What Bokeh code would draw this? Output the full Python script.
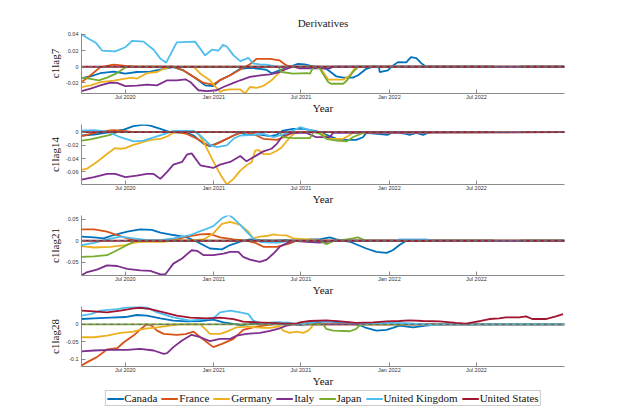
import math
from datetime import datetime
from bokeh.plotting import figure
from bokeh.models import (Range1d, FixedTicker, DatetimeTickFormatter, CustomJSTickFormatter,
                          Legend, LegendItem, Span)
from bokeh.layouts import column
from bokeh.embed import file_html
from bokeh.resources import INLINE

NAN = float("nan")

COUNTRIES = ["Canada", "France", "Germany", "Italy", "Japan", "United Kingdom", "United States"]
COLORS = ["#0072BD", "#D95319", "#EDB120", "#7E2F8E", "#77AC30", "#4DBEEE", "#A2142F"]
PANEL_LABELS = ["c1lag7", "c1lag14", "c1lag21", "c1lag28"]
TITLE = "Derivatives"
X_LABEL = "Year"
X_START, X_END = "2020-04-01", "2022-12-31"
X_TICK_DATES = ["2020-07-01", "2021-01-01", "2021-07-01", "2022-01-01", "2022-07-01"]
Y_RANGES = [(-0.033, 0.041), (-0.079, 0.0116), (-0.0805, 0.0585), (-0.12, 0.0506)]
Y_TICKS = [[-0.02, 0, 0.02, 0.04], [-0.06, -0.04, -0.02, 0], [-0.05, 0, 0.05], [-0.1, -0.05, 0]]

# ---------------- c1lag7 ----------------
C7_CANADA = [("2020-04-01", -0.014), ("2020-04-20", -0.012), ("2020-05-10", -0.008), ("2020-06-07", -0.006),
             ("2020-07-01", -0.0085), ("2020-07-25", -0.0065), ("2020-08-22", -0.006), ("2020-09-19", -0.0025),
             ("2020-10-09", -0.0005), ("2020-10-30", -0.0045), ("2020-11-23", -0.0135), ("2020-12-14", -0.023),
             ("2020-12-31", -0.024), ("2021-01-14", -0.0165), ("2021-02-04", -0.0105), ("2021-02-25", -0.0025),
             ("2021-03-17", -0.0015), ("2021-04-07", -0.0025), ("2021-04-21", -0.004), ("2021-05-01", -0.008),
             ("2021-05-18", -0.0045), ("2021-06-08", 0.0), ("2021-06-25", 0.0035), ("2021-07-09", 0.003),
             ("2021-07-20", 0.0015), ("2021-08-23", -0.0025), ("2021-09-13", -0.012), ("2021-09-27", -0.0135),
             ("2021-10-17", -0.0135), ("2021-10-28", -0.0105), ("2021-11-14", -0.0025), ("2021-11-28", 0.0),
             ("2021-12-10", 0.0), ("2021-12-12", -0.0065), ("2021-12-29", -0.0045), ("2022-01-05", 0.0),
             ("2022-01-19", 0.0057), ("2022-02-05", 0.0053), ("2022-02-15", 0.0118), ("2022-02-26", 0.0106),
             ("2022-03-08", 0.0045), ("2022-03-18", 0.0), ("2022-12-31", 0.0)]
C7_FRANCE = [("2020-04-01", -0.019), ("2020-04-20", -0.0105), ("2020-05-10", -0.0005), ("2020-06-07", 0.0025),
             ("2020-07-01", 0.001), ("2020-07-25", 0.0), ("2020-10-09", 0.0), ("2020-10-30", -0.0045),
             ("2020-11-20", -0.0125), ("2020-12-11", -0.020), ("2020-12-31", -0.022), ("2021-01-14", -0.0165),
             ("2021-02-04", -0.0105), ("2021-02-25", -0.0035), ("2021-03-17", 0.003), ("2021-03-31", 0.0098),
             ("2021-04-28", 0.0098), ("2021-05-18", 0.0078), ("2021-06-01", 0.0016), ("2021-06-12", 0.0),
             ("2022-12-31", 0.0)]
C7_GERMANY = [("2020-04-01", -0.025), ("2020-04-20", -0.023), ("2020-05-10", -0.019), ("2020-06-07", -0.017),
              ("2020-07-01", -0.0147), ("2020-07-15", -0.0135), ("2020-07-25", -0.0147), ("2020-08-15", -0.008),
              ("2020-09-05", -0.0065), ("2020-09-19", -0.0025), ("2020-10-02", -0.0004), ("2020-11-20", 0.0),
              ("2020-12-04", -0.0086), ("2020-12-24", -0.0167), ("2021-01-14", -0.031), ("2021-01-21", -0.029),
              ("2021-02-04", -0.028), ("2021-02-25", -0.028), ("2021-03-07", -0.033), ("2021-03-17", -0.025),
              ("2021-03-31", -0.026), ("2021-04-14", -0.0237), ("2021-05-01", -0.0167), ("2021-05-18", -0.0065),
              ("2021-06-08", 0.0), ("2021-08-09", 0.0), ("2021-08-27", -0.016), ("2021-09-27", -0.016),
              ("2021-10-11", -0.0106), ("2021-10-21", -0.002), ("2021-10-28", 0.0), ("2022-12-31", 0.0)]
C7_ITALY = [("2020-04-01", -0.030), ("2020-04-20", -0.027), ("2020-05-10", -0.023), ("2020-05-31", -0.0196),
            ("2020-06-14", -0.020), ("2020-07-01", -0.024), ("2020-07-25", -0.0233), ("2020-08-15", -0.022),
            ("2020-09-05", -0.023), ("2020-09-26", -0.0167), ("2020-10-16", -0.0167), ("2020-11-03", -0.0155),
            ("2020-11-13", -0.0188), ("2020-11-30", -0.029), ("2020-12-17", -0.030), ("2021-01-07", -0.029),
            ("2021-01-21", -0.025), ("2021-02-11", -0.020), ("2021-02-25", -0.0167), ("2021-03-17", -0.0126),
            ("2021-04-07", -0.0106), ("2021-04-28", -0.0094), ("2021-05-18", -0.0065), ("2021-06-01", -0.0025),
            ("2021-06-15", 0.0), ("2021-06-29", -0.002), ("2021-08-30", -0.002), ("2021-09-06", 0.0),
            ("2022-12-31", 0.0)]
C7_JAPAN = [("2020-04-01", -0.0135), ("2020-04-20", -0.015), ("2020-05-07", -0.0167), ("2020-05-24", -0.0135),
            ("2020-06-14", -0.0078), ("2020-07-01", -0.001), ("2020-07-08", 0.0), ("2021-05-15", 0.0),
            ("2021-05-22", -0.0065), ("2021-06-15", -0.0086), ("2021-07-13", -0.0078), ("2021-07-20", -0.0086),
            ("2021-07-27", 0.0), ("2021-08-09", -0.002), ("2021-08-27", -0.019), ("2021-09-02", -0.021),
            ("2021-09-27", -0.021), ("2021-10-05", -0.0167), ("2021-10-17", -0.0065), ("2021-10-28", 0.0),
            ("2022-08-06", 0.0), ("2022-08-07", NAN), ("2022-09-30", NAN), ("2022-10-01", 0.0), ("2022-12-31", 0.0)]
C7_UK = [("2020-04-01", 0.040), ("2020-04-13", 0.0355), ("2020-04-30", 0.030), ("2020-05-14", 0.020),
         ("2020-06-10", 0.019), ("2020-07-01", 0.024), ("2020-07-15", 0.032), ("2020-08-08", 0.031),
         ("2020-08-29", 0.021), ("2020-09-12", 0.010), ("2020-09-24", 0.005), ("2020-10-16", 0.030),
         ("2020-11-23", 0.031), ("2020-12-14", 0.014), ("2020-12-28", 0.021), ("2021-01-11", 0.020),
         ("2021-01-20", 0.027), ("2021-01-28", 0.025), ("2021-02-11", 0.014), ("2021-02-25", 0.007),
         ("2021-03-14", 0.011), ("2021-03-24", 0.004), ("2021-04-07", 0.003), ("2021-04-21", 0.0025),
         ("2021-05-12", 0.0), ("2022-08-06", 0.0), ("2022-08-07", NAN), ("2022-09-30", NAN),
         ("2022-10-01", 0.0), ("2022-12-31", 0.0)]
C7_US = [("2020-04-01", 0.0), ("2022-08-06", 0.0), ("2022-08-07", NAN), ("2022-09-30", NAN),
         ("2022-10-01", 0.0), ("2022-12-31", 0.0)]

# ---------------- c1lag14 ----------------
C14_CANADA = [("2020-04-01", -0.005), ("2020-04-27", -0.0035), ("2020-05-31", 0.0), ("2020-06-28", 0.004),
              ("2020-07-18", 0.009), ("2020-08-08", 0.0116), ("2020-08-22", 0.010), ("2020-09-12", 0.005),
              ("2020-10-02", 0.0), ("2020-11-06", -0.001), ("2020-11-20", -0.005), ("2020-12-11", -0.0176),
              ("2020-12-24", -0.021), ("2021-01-14", -0.015), ("2021-02-04", -0.0076), ("2021-02-25", 0.0),
              ("2021-03-10", -0.004), ("2021-04-07", -0.0035), ("2021-04-28", -0.006), ("2021-05-12", -0.004),
              ("2021-05-25", 0.0025), ("2021-06-15", 0.005), ("2021-07-06", 0.005), ("2021-07-27", 0.0025),
              ("2021-08-09", 0.0), ("2021-09-13", -0.010), ("2021-09-27", -0.0116), ("2021-10-24", -0.0116),
              ("2021-11-07", -0.0076), ("2021-11-14", -0.001), ("2021-12-29", -0.004), ("2022-01-08", 0.0),
              ("2022-02-05", -0.0025), ("2022-02-12", -0.004), ("2022-02-26", -0.001), ("2022-03-12", -0.004),
              ("2022-03-22", -0.001), ("2022-04-01", 0.0), ("2022-12-31", 0.0)]
C14_FRANCE = [("2020-04-01", -0.006), ("2020-04-20", -0.0025), ("2020-05-10", 0.001), ("2020-06-07", 0.003),
              ("2020-06-28", 0.002), ("2020-07-18", 0.0), ("2020-10-16", 0.0), ("2020-11-06", -0.0025),
              ("2020-11-27", -0.010), ("2020-12-17", -0.0186), ("2020-12-31", -0.020), ("2021-01-14", -0.015),
              ("2021-02-11", -0.005), ("2021-03-03", 0.0), ("2021-03-24", -0.0025), ("2021-04-14", -0.010),
              ("2021-05-12", -0.0116), ("2021-05-25", -0.008), ("2021-06-08", -0.0025), ("2021-06-29", 0.0),
              ("2022-12-31", 0.0)]
C14_GERMANY = [("2020-04-01", -0.057), ("2020-04-13", -0.055), ("2020-05-03", -0.045), ("2020-05-24", -0.033),
               ("2020-06-10", -0.024), ("2020-06-21", -0.025), ("2020-07-01", -0.024), ("2020-07-15", -0.020),
               ("2020-08-01", -0.016), ("2020-08-22", -0.0116), ("2020-09-12", -0.010), ("2020-09-26", -0.0065),
               ("2020-10-09", -0.001), ("2020-10-23", 0.0), ("2020-11-27", 0.0), ("2020-12-11", -0.015),
               ("2020-12-28", -0.040), ("2021-01-14", -0.063), ("2021-01-28", -0.079), ("2021-02-11", -0.0705),
               ("2021-02-25", -0.058), ("2021-03-10", -0.050), ("2021-03-21", -0.045), ("2021-03-28", -0.0277),
               ("2021-04-04", -0.027), ("2021-04-14", -0.033), ("2021-04-28", -0.033), ("2021-05-12", -0.028),
               ("2021-05-22", -0.023), ("2021-06-01", -0.014), ("2021-06-12", -0.005), ("2021-06-22", 0.0),
               ("2021-08-09", 0.0), ("2021-08-30", -0.010), ("2021-09-27", -0.010), ("2021-10-07", -0.006),
               ("2021-10-17", -0.001), ("2022-12-31", 0.0)]
C14_ITALY = [("2020-04-01", -0.0716), ("2020-04-27", -0.068), ("2020-05-24", -0.063), ("2020-06-10", -0.063),
             ("2020-07-01", -0.068), ("2020-07-25", -0.0655), ("2020-08-15", -0.063), ("2020-08-29", -0.063),
             ("2020-09-12", -0.0705), ("2020-09-26", -0.060), ("2020-10-09", -0.049), ("2020-10-27", -0.045),
             ("2020-11-06", -0.034), ("2020-11-16", -0.032), ("2020-12-04", -0.050), ("2020-12-31", -0.054),
             ("2021-01-14", -0.049), ("2021-02-04", -0.045), ("2021-02-25", -0.036), ("2021-03-10", -0.044),
             ("2021-03-24", -0.038), ("2021-04-14", -0.029), ("2021-05-01", -0.025), ("2021-05-12", -0.0176),
             ("2021-05-22", -0.0076), ("2021-06-01", -0.0025), ("2021-06-15", -0.001), ("2021-07-13", -0.001),
             ("2021-08-02", -0.0076), ("2021-08-30", -0.0076), ("2021-09-06", -0.001), ("2022-12-31", 0.0)]
C14_JAPAN = [("2020-04-01", -0.0126), ("2020-04-20", -0.011), ("2020-05-10", -0.0076), ("2020-05-31", -0.004),
             ("2020-06-14", 0.0), ("2021-05-18", 0.0), ("2021-05-25", -0.0076), ("2021-06-15", -0.009),
             ("2021-07-20", -0.009), ("2021-07-27", 0.0), ("2021-08-09", -0.002), ("2021-08-23", -0.010),
             ("2021-09-13", -0.0126), ("2021-10-04", -0.014), ("2021-10-17", -0.0076), ("2021-11-07", -0.001),
             ("2021-11-14", 0.0), ("2022-08-06", 0.0), ("2022-08-07", NAN), ("2022-09-30", NAN),
             ("2022-10-01", 0.0), ("2022-12-31", 0.0)]
C14_UK = [("2020-04-01", 0.0025), ("2020-04-27", 0.003), ("2020-05-24", 0.001), ("2020-06-21", -0.0076),
          ("2020-07-18", -0.014), ("2020-08-08", -0.0126), ("2020-08-29", -0.008), ("2020-09-26", -0.0015),
          ("2020-10-09", 0.002), ("2020-11-20", 0.002), ("2020-12-04", -0.005), ("2020-12-24", -0.019),
          ("2021-01-07", -0.0227), ("2021-01-28", -0.020), ("2021-02-11", -0.010), ("2021-02-25", -0.005),
          ("2021-03-24", -0.004), ("2021-04-14", -0.0025), ("2021-05-05", -0.0076), ("2021-05-18", -0.005),
          ("2021-06-08", 0.0), ("2021-06-29", 0.0075), ("2021-07-27", 0.0015), ("2021-08-09", 0.0),
          ("2022-08-06", 0.0), ("2022-08-07", NAN), ("2022-09-30", NAN), ("2022-10-01", 0.0), ("2022-12-31", 0.0)]
C14_US = [("2020-04-01", 0.0), ("2022-08-06", 0.0), ("2022-08-07", NAN), ("2022-09-30", NAN),
          ("2022-10-01", 0.0), ("2022-12-31", 0.0)]

# ---------------- c1lag21 ----------------
C21_CANADA = [("2020-04-01", 0.0094), ("2020-04-27", 0.0078), ("2020-05-17", 0.0055), ("2020-06-07", 0.0133),
              ("2020-07-05", 0.021), ("2020-08-01", 0.0265), ("2020-08-25", 0.025), ("2020-09-12", 0.019),
              ("2020-10-09", 0.0133), ("2020-11-06", 0.0078), ("2020-11-27", -0.0023), ("2020-12-24", -0.018),
              ("2021-01-18", -0.020), ("2021-02-04", -0.010), ("2021-02-25", -0.0023), ("2021-03-17", 0.003),
              ("2021-04-07", 0.0016), ("2021-05-05", 0.0), ("2021-06-01", 0.0016), ("2021-06-29", -0.001),
              ("2021-07-20", 0.003), ("2021-08-09", 0.003), ("2021-08-30", 0.0078), ("2021-09-13", 0.003),
              ("2021-10-11", -0.0023), ("2021-11-14", -0.018), ("2021-12-05", -0.026), ("2021-12-26", -0.028),
              ("2022-01-08", -0.022), ("2022-01-22", -0.010), ("2022-02-05", 0.0), ("2022-12-31", 0.0)]
C21_FRANCE = [("2020-04-01", 0.0265), ("2020-04-27", 0.0265), ("2020-05-24", 0.021), ("2020-06-14", 0.0133),
              ("2020-07-05", 0.0055), ("2020-07-25", 0.0), ("2020-09-12", -0.001), ("2020-10-09", 0.0016),
              ("2020-11-06", 0.0094), ("2020-12-04", 0.0148), ("2020-12-24", 0.0156), ("2021-01-14", 0.0078),
              ("2021-02-11", 0.003), ("2021-03-10", 0.0), ("2021-03-31", -0.006), ("2021-04-14", -0.014),
              ("2021-05-12", -0.014), ("2021-06-08", -0.006), ("2021-06-22", 0.0), ("2022-12-31", 0.0)]
C21_GERMANY = [("2020-04-01", -0.0125), ("2020-04-27", -0.0156), ("2020-05-31", -0.014), ("2020-07-01", -0.010),
               ("2020-07-18", -0.0047), ("2020-08-01", -0.0023), ("2020-09-19", -0.0023), ("2020-10-16", 0.0016),
               ("2020-11-13", 0.0), ("2020-12-11", 0.003), ("2020-12-31", 0.017), ("2021-01-18", 0.039),
               ("2021-02-04", 0.0437), ("2021-02-25", 0.0367), ("2021-03-14", 0.021), ("2021-03-24", 0.0055),
               ("2021-04-07", 0.0094), ("2021-04-21", 0.011), ("2021-05-05", 0.0148), ("2021-05-15", 0.013),
               ("2021-06-01", 0.0125), ("2021-06-15", 0.0055), ("2021-07-06", 0.004), ("2021-07-20", 0.003),
               ("2021-08-09", 0.0), ("2022-12-31", 0.0)]
C21_ITALY = [("2020-04-01", -0.080), ("2020-04-13", -0.0725), ("2020-05-03", -0.067), ("2020-05-24", -0.057),
             ("2020-06-14", -0.0585), ("2020-07-05", -0.065), ("2020-08-01", -0.0686), ("2020-08-22", -0.070),
             ("2020-09-12", -0.078), ("2020-09-22", -0.078), ("2020-10-09", -0.053), ("2020-10-27", -0.041),
             ("2020-11-16", -0.022), ("2020-11-27", -0.0234), ("2020-12-11", -0.0335), ("2020-12-31", -0.0335),
             ("2021-01-21", -0.0296), ("2021-02-04", -0.0257), ("2021-02-21", -0.0257), ("2021-03-03", -0.0374),
             ("2021-03-17", -0.0437), ("2021-04-07", -0.049), ("2021-04-21", -0.0437), ("2021-05-05", -0.0296),
             ("2021-05-18", -0.014), ("2021-06-01", -0.006), ("2021-06-15", 0.0), ("2021-07-13", -0.0023),
             ("2021-08-09", -0.004), ("2021-08-30", -0.002), ("2021-09-06", 0.0), ("2022-12-31", 0.0)]
C21_JAPAN = [("2020-04-01", -0.0374), ("2020-04-27", -0.036), ("2020-05-24", -0.0335), ("2020-06-14", -0.022),
             ("2020-07-05", -0.010), ("2020-07-18", -0.0023), ("2020-07-25", 0.0), ("2021-08-09", 0.0),
             ("2021-08-23", -0.008), ("2021-09-06", -0.001), ("2021-10-04", 0.003), ("2021-10-17", 0.0055),
             ("2021-10-28", 0.0078), ("2021-11-07", 0.003), ("2021-11-14", 0.0), ("2022-08-06", 0.0),
             ("2022-08-07", NAN), ("2022-09-30", NAN), ("2022-10-01", 0.0), ("2022-12-31", 0.0)]
C21_UK = [("2020-04-01", -0.010), ("2020-04-27", -0.0047), ("2020-05-24", 0.003), ("2020-06-21", 0.0094),
          ("2020-07-18", 0.0055), ("2020-08-15", 0.0016), ("2020-09-12", 0.0016), ("2020-10-09", 0.0055),
          ("2020-11-13", 0.0133), ("2020-12-11", 0.025), ("2020-12-31", 0.034), ("2021-01-18", 0.052),
          ("2021-02-01", 0.060), ("2021-02-11", 0.052), ("2021-02-25", 0.0367), ("2021-03-10", 0.021),
          ("2021-03-24", 0.0055), ("2021-04-07", -0.0023), ("2021-04-28", -0.004), ("2021-05-18", -0.004),
          ("2021-06-08", 0.0), ("2022-01-15", 0.0), ("2022-01-22", 0.003), ("2022-03-18", 0.003),
          ("2022-04-01", 0.0), ("2022-08-06", 0.0), ("2022-08-07", NAN), ("2022-09-30", NAN),
          ("2022-10-01", 0.0), ("2022-12-31", 0.0)]
C21_US = [("2020-04-01", 0.0), ("2022-08-06", 0.0), ("2022-08-07", NAN), ("2022-09-30", NAN),
          ("2022-10-01", 0.0), ("2022-12-31", 0.0)]

# ---------------- c1lag28 ----------------
C28_CANADA = [("2020-04-01", 0.015), ("2020-04-27", 0.017), ("2020-05-31", 0.019), ("2020-07-01", 0.0207),
              ("2020-07-25", 0.0264), ("2020-08-15", 0.0245), ("2020-09-12", 0.017), ("2020-10-09", 0.0104),
              ("2020-11-06", 0.0085), ("2020-12-04", 0.0094), ("2020-12-31", 0.0132), ("2021-01-21", 0.0057),
              ("2021-02-11", 0.001), ("2021-02-25", -0.002), ("2021-03-24", 0.001), ("2021-04-21", 0.0038),
              ("2021-05-18", 0.0057), ("2021-06-08", 0.002), ("2021-06-29", -0.002), ("2021-07-27", 0.0057),
              ("2021-08-23", 0.0085), ("2021-09-27", 0.0057), ("2021-10-31", -0.002), ("2021-11-14", -0.0104),
              ("2021-12-05", -0.018), ("2021-12-26", -0.016), ("2022-01-08", -0.0104), ("2022-01-22", -0.004),
              ("2022-02-19", -0.0085), ("2022-03-18", -0.004), ("2022-04-15", 0.0), ("2022-12-31", 0.0)]
C28_FRANCE = [("2020-04-01", -0.117), ("2020-04-13", -0.1075), ("2020-05-03", -0.0934), ("2020-05-24", -0.0717),
              ("2020-06-14", -0.068), ("2020-06-28", -0.051), ("2020-07-18", -0.032), ("2020-08-01", -0.015),
              ("2020-08-15", 0.0), ("2020-08-25", -0.004), ("2020-09-05", -0.018), ("2020-09-19", -0.0273),
              ("2020-10-16", -0.030), ("2020-11-03", -0.028), ("2020-11-20", -0.0207), ("2020-12-04", -0.0368),
              ("2020-12-31", -0.065), ("2021-01-18", -0.0556), ("2021-02-11", -0.0415), ("2021-03-03", -0.016),
              ("2021-03-24", -0.0085), ("2021-04-14", -0.004), ("2021-05-05", 0.0), ("2022-12-31", 0.0)]
C28_GERMANY = [("2020-04-01", -0.0368), ("2020-04-27", -0.0368), ("2020-05-24", -0.032), ("2020-06-21", -0.0245),
               ("2020-07-18", -0.0207), ("2020-08-08", -0.0132), ("2020-09-05", -0.0085), ("2020-10-02", -0.0038),
               ("2020-10-23", 0.0), ("2020-12-04", 0.0), ("2020-12-14", -0.0132), ("2020-12-24", -0.0273),
               ("2021-01-14", -0.0273), ("2021-01-28", -0.0207), ("2021-02-18", -0.0085), ("2021-03-10", -0.0066),
               ("2021-03-31", -0.009), ("2021-04-14", -0.0104), ("2021-04-28", -0.0104), ("2021-05-18", -0.0057),
               ("2021-05-25", -0.018), ("2021-06-08", -0.0245), ("2021-06-22", -0.0207), ("2021-07-06", -0.0245),
               ("2021-07-16", -0.018), ("2021-07-23", -0.0085), ("2021-07-27", 0.0), ("2022-12-31", 0.0)]
C28_ITALY = [("2020-04-01", -0.077), ("2020-04-27", -0.0745), ("2020-05-31", -0.0726), ("2020-07-05", -0.0726),
             ("2020-08-01", -0.0698), ("2020-08-29", -0.0745), ("2020-09-19", -0.084), ("2020-09-26", -0.082),
             ("2020-10-09", -0.065), ("2020-10-27", -0.046), ("2020-11-16", -0.030), ("2020-12-04", -0.0368),
             ("2020-12-24", -0.048), ("2021-01-14", -0.0415), ("2021-02-04", -0.0415), ("2021-02-18", -0.032),
             ("2021-03-10", -0.0273), ("2021-04-07", -0.0245), ("2021-04-28", -0.0189), ("2021-05-18", -0.0113),
             ("2021-06-01", -0.004), ("2021-06-15", 0.0), ("2022-12-31", 0.0)]
C28_JAPAN = [("2020-04-01", 0.0), ("2021-08-16", 0.0), ("2021-08-23", -0.0132), ("2021-09-06", -0.018),
             ("2021-10-11", -0.0198), ("2021-10-24", -0.0132), ("2021-10-31", -0.004), ("2021-11-07", 0.0),
             ("2022-12-31", 0.0)]
C28_UK = [("2020-04-01", 0.0245), ("2020-04-20", 0.029), ("2020-05-10", 0.0386), ("2020-06-14", 0.0434),
          ("2020-07-05", 0.048), ("2020-08-01", 0.050), ("2020-08-15", 0.048), ("2020-09-05", 0.034),
          ("2020-10-09", 0.0198), ("2020-11-13", 0.0104), ("2020-12-11", 0.015), ("2020-12-31", 0.017),
          ("2021-01-14", 0.034), ("2021-02-04", 0.0386), ("2021-02-25", 0.034), ("2021-03-14", 0.029),
          ("2021-03-24", 0.0104), ("2021-04-07", 0.004), ("2021-05-05", 0.002), ("2021-06-01", 0.0057),
          ("2021-06-29", 0.0), ("2021-08-09", 0.0094), ("2021-09-06", 0.0094), ("2021-10-04", 0.0057),
          ("2021-11-07", 0.001), ("2021-12-05", 0.0038), ("2022-02-05", 0.003), ("2022-04-01", -0.002),
          ("2022-04-15", 0.0), ("2022-12-31", 0.0)]
C28_US = [("2020-04-01", 0.0386), ("2020-04-27", 0.037), ("2020-05-24", 0.034), ("2020-06-21", 0.0386),
          ("2020-07-18", 0.045), ("2020-08-01", 0.047), ("2020-08-22", 0.0434), ("2020-09-19", 0.034),
          ("2020-10-16", 0.0245), ("2020-11-13", 0.019), ("2020-12-17", 0.017), ("2021-01-14", 0.019),
          ("2021-02-11", 0.015), ("2021-03-03", 0.0075), ("2021-03-31", 0.0057), ("2021-04-28", 0.0038),
          ("2021-05-25", 0.0019), ("2021-06-22", 0.002), ("2021-06-29", 0.0057), ("2021-07-20", 0.0094),
          ("2021-08-23", 0.0113), ("2021-09-27", 0.0075), ("2021-10-24", 0.004), ("2021-11-28", 0.0057),
          ("2021-12-26", 0.0085), ("2022-01-22", 0.0094), ("2022-02-12", 0.0113), ("2022-03-12", 0.0094),
          ("2022-04-15", 0.0085), ("2022-05-20", 0.004), ("2022-06-09", 0.0019), ("2022-06-23", 0.0057),
          ("2022-07-10", 0.0094), ("2022-07-28", 0.015), ("2022-08-17", 0.017), ("2022-08-31", 0.0198),
          ("2022-09-28", 0.0198), ("2022-10-12", 0.0226), ("2022-10-25", 0.015), ("2022-11-22", 0.015),
          ("2022-12-13", 0.0226), ("2022-12-28", 0.029)]

PANELS = [
    [C7_CANADA, C7_FRANCE, C7_GERMANY, C7_ITALY, C7_JAPAN, C7_UK, C7_US],
    [C14_CANADA, C14_FRANCE, C14_GERMANY, C14_ITALY, C14_JAPAN, C14_UK, C14_US],
    [C21_CANADA, C21_FRANCE, C21_GERMANY, C21_ITALY, C21_JAPAN, C21_UK, C21_US],
    [C28_CANADA, C28_FRANCE, C28_GERMANY, C28_ITALY, C28_JAPAN, C28_UK, C28_US],
]


def d(s):
    return datetime.strptime(s, "%Y-%m-%d")


SERIF = "Liberation Serif"
SANS = "Liberation Sans"
AXIS_COLOR = "#8a8a8a"
LINE_W = 1.8

figs = []
borders = [(33, 30), (1, 30), (1, 30), (1, 23)]
for i, series in enumerate(PANELS):
    top, bottom = borders[i]
    p = figure(x_axis_type="datetime", frame_width=483, frame_height=60,
               min_border_left=81, min_border_right=58, min_border_top=top, min_border_bottom=bottom,
               x_range=Range1d(d(X_START), d(X_END)), y_range=Range1d(*Y_RANGES[i]),
               output_backend="svg", toolbar_location=None, title=(TITLE if i == 0 else None))
    if i == 0:
        p.title.align = "center"
        p.title.text_font = SERIF
        p.title.text_font_size = "11px"
        p.title.text_font_style = "normal"
        p.title.text_color = "#222222"
        p.title.standoff = 10
        p.title.offset = -10
    p.outline_line_color = None
    p.grid.visible = False
    p.background_fill_color = "white"
    p.border_fill_color = "white"

    for name, color, data in zip(COUNTRIES, COLORS, series):
        xs = [d(a) for a, _ in data]
        ys = [b for _, b in data]
        p.line(xs, ys, line_color=color, line_width=LINE_W)

    p.add_layout(Span(location=0, dimension="width", line_color="#6e6e6e",
                      line_dash="4 3", line_width=1.3))

    xa = p.xaxis[0]
    xa.ticker = FixedTicker(ticks=[d(t).timestamp() * 1000 for t in X_TICK_DATES])
    xa.formatter = DatetimeTickFormatter(months="%b %Y", days="%b %Y", years="%b %Y",
                                         hours="%b %Y", minutes="%b %Y")
    xa.axis_label = X_LABEL
    ya = p.yaxis[0]
    ya.ticker = FixedTicker(ticks=Y_TICKS[i])
    ya.formatter = CustomJSTickFormatter(
        code="return Math.abs(tick) < 1e-12 ? '0' : String(Number(tick.toPrecision(6)));")
    ya.axis_label = PANEL_LABELS[i]
    for ax in (xa, ya):
        ax.axis_line_color = AXIS_COLOR
        ax.major_tick_line_color = AXIS_COLOR
        ax.minor_tick_line_color = None
        ax.major_tick_in = 4
        ax.major_tick_out = 0
        ax.major_label_text_font = SANS
        ax.major_label_text_font_size = "5.5px"
        ax.major_label_text_color = "#333333"
        ax.axis_label_text_font = SERIF
        ax.axis_label_text_font_size = "11px"
        ax.axis_label_text_font_style = "normal"
        ax.axis_label_text_color = "#111111"
    xa.major_label_standoff = 0
    xa.axis_label_standoff = -1
    ya.major_label_standoff = 3
    ya.axis_label_standoff = 2
    figs.append(p)

# legend strip: a small figure whose only content is the legend (NaN proxies carry the series colours)
lg = figure(frame_width=483, frame_height=18, min_border_left=81, min_border_right=58,
            min_border_top=0, min_border_bottom=0, x_range=Range1d(0, 1), y_range=Range1d(0, 1),
            x_axis_location=None, y_axis_location=None, output_backend="svg",
            toolbar_location=None, title=None)
lg.grid.visible = False
lg.outline_line_color = None
lg.background_fill_color = "white"
lg.border_fill_color = "white"
items = []
for name, color in zip(COUNTRIES, COLORS):
    r = lg.line(x=[NAN], y=[NAN], line_color=color, line_width=LINE_W)
    items.append(LegendItem(label=name, renderers=[r]))
legend = Legend(items=items, orientation="horizontal", location="center",
                label_text_font=SERIF, label_text_font_size="11px", label_text_color="#111111",
                glyph_width=17, glyph_height=11, label_height=11, label_standoff=1,
                spacing=4, padding=1, margin=0,
                border_line_color="#9a9a9a", border_line_width=1,
                background_fill_color="white", background_fill_alpha=1.0)
lg.add_layout(legend, "center")
figs.append(lg)

layout = column(*figs)
open("out.html", "w").write(file_html(layout, INLINE))
